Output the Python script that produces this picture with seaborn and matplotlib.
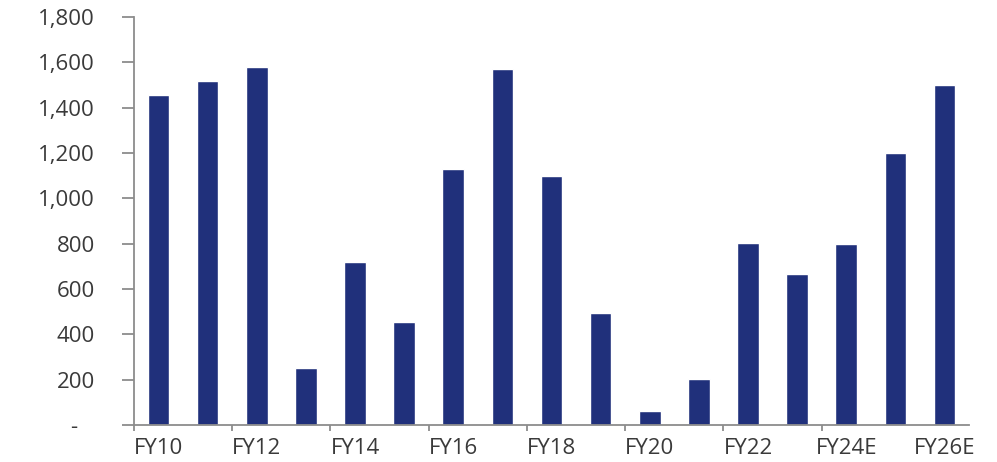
import matplotlib
matplotlib.use("Agg")
import matplotlib.pyplot as plt
import seaborn as sns
import pandas as pd
import numpy as np
from matplotlib.ticker import FixedLocator

categories = ["FY10", "FY11", "FY12", "FY13", "FY14", "FY15", "FY16", "FY17", "FY18",
              "FY19", "FY20", "FY21", "FY22", "FY23", "FY24E", "FY25E", "FY26E"]
values = [1455, 1520, 1580, 250, 720, 455, 1130, 1570, 1100,
          495, 60, 205, 805, 665, 800, 1200, 1500]
y_ticks = [0, 200, 400, 600, 800, 1000, 1200, 1400, 1600, 1800]
y_tick_labels = ["-   ", "200", "400", "600", "800", "1,000", "1,200", "1,400", "1,600", "1,800"]

sns.set_theme(style="white")
plt.rcParams['font.family'] = ['Open Sans', 'DejaVu Sans']

df = pd.DataFrame({"year": categories, "value": values})

fig = plt.figure(figsize=(9.97, 4.62), dpi=100)
ax = fig.add_axes([0.1344, 0.080, 0.972 - 0.1344, 0.963 - 0.080])

sns.barplot(data=df, x="year", y="value", order=categories, color="#20307B",
            width=0.44, saturation=1, ax=ax)

ax.set_xlim(-0.5, len(categories) - 0.5)
ax.set_ylim(0, 1800)
ax.set_xlabel("")
ax.set_ylabel("")

text_color = "#3a3a3a"
axis_color = "#8c8c8c"

# x labels every other category, ticks at boundaries
major = list(range(0, len(categories), 2))
ax.set_xticks(major)
ax.set_xticklabels([categories[i] for i in major])
ax.xaxis.set_minor_locator(FixedLocator([i - 0.5 for i in major[:-1]]))
ax.tick_params(axis="x", which="major", length=0, pad=9, labelsize=16, labelcolor=text_color)
ax.tick_params(axis="x", which="minor", length=4, width=1.3, color=axis_color, direction="out", bottom=True)

ax.set_yticks(y_ticks)
ax.set_yticklabels(y_tick_labels)
ax.tick_params(axis="y", which="major", length=9, width=1.3, color=axis_color, direction="out",
               left=True, pad=19, labelsize=16, labelcolor=text_color)

for s in ["top", "right"]:
    ax.spines[s].set_visible(False)
for s in ["left", "bottom"]:
    ax.spines[s].set_color(axis_color)
    ax.spines[s].set_linewidth(1.3)

ax.grid(False)

fig.savefig("out.png", dpi=100)
